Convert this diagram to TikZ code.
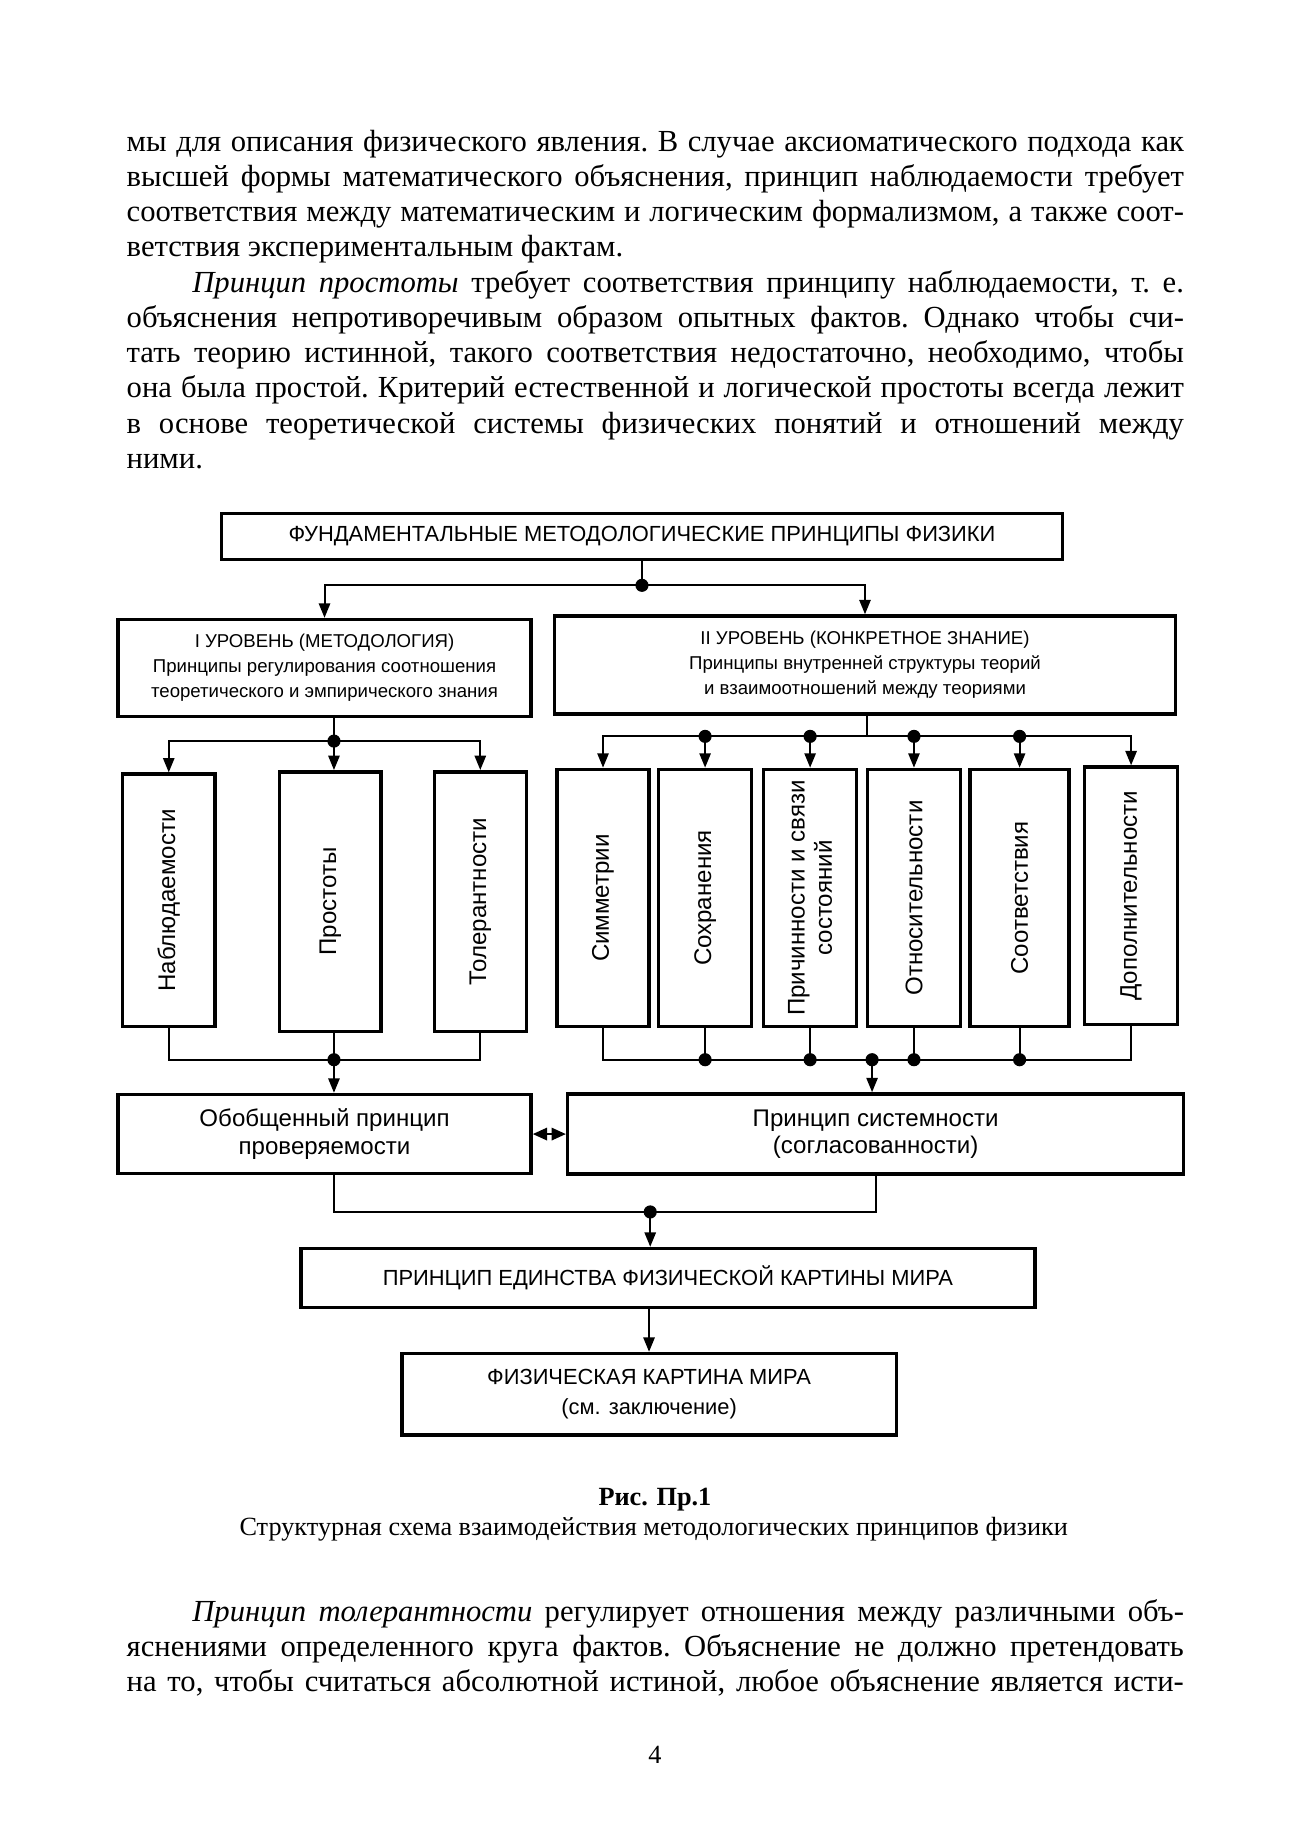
\documentclass[tikz,border=0pt]{standalone}
\usepackage{fontspec}
\setmainfont{Liberation Serif}
\newfontfamily\diafont{Liberation Sans}
\usetikzlibrary{arrows.meta}

% one pixel of the page
\def\pu{0.18953mm}

\begin{document}
\begin{tikzpicture}[x=\pu, y=-\pu,
  box/.style={draw, line width=1.6pt, inner sep=0pt, align=center,
    font=\diafont\fontsize{10}{14}\selectfont},
  small/.style={font=\diafont\fontsize{8.5}{11.5}\selectfont},
  mid/.style={font=\diafont\fontsize{11}{12.5}\selectfont},
  dims/.style 2 args={minimum width=#1*\pu, minimum height=#2*\pu},
  vlabel/.style={rotate=90, align=center, font=\diafont\fontsize{11}{12.5}\selectfont},
  conn/.style={line width=0.9pt},
  arr/.style={conn, -{Triangle[length=2.3mm, width=1.8mm]}},
  dbl/.style={conn, {Triangle[length=2.3mm, width=2mm]}-{Triangle[length=2.3mm, width=2mm]}},
  body/.style={anchor=base west, inner sep=0pt, text width=169.8mm, align=justify,
    font=\fontsize{14}{16.12}\selectfont}
]

% Page
\useasboundingbox[fill=white] (0,0) rectangle (1108,1566);

% Text above the figure
\node[body] (txtA) at (107,128) {\frenchspacing\hyphenpenalty=10000 \parindent=30pt
\noindent мы для описания физического явления. В случае аксиоматического подхода как\linebreak
высшей формы математического объяснения, принцип наблюдаемости требует\linebreak
соответствия между математическим и логическим формализмом, а также соот-\linebreak
ветствия экспериментальным фактам.\par
\textit{Принцип простоты} требует соответствия принципу наблюдаемости, т.~е.\linebreak
объяснения непротиворечивым образом опытных фактов. Однако чтобы счи-\linebreak
тать теорию истинной, такого соответствия недостаточно, необходимо, чтобы\linebreak
она была простой. Критерий естественной и логической простоты всегда лежит\linebreak
в основе теоретической системы физических понятий и отношений между\linebreak
ними.\par};

% Top box
\node[box, dims={713}{39}] (top) at (544,454.5) {ФУНДАМЕНТАЛЬНЫЕ МЕТОДОЛОГИЧЕСКИЕ ПРИНЦИПЫ ФИЗИКИ};

% Levels
\node[box, small, dims={350}{82}] (lvlI) at (275,566)
  {I УРОВЕНЬ (МЕТОДОЛОГИЯ)\\Принципы регулирования соотношения\\теоретического и эмпирического знания};
\node[box, small, dims={526}{83}] (lvlII) at (733,563.5)
  {II УРОВЕНЬ (КОНКРЕТНОЕ ЗНАНИЕ)\\Принципы внутренней структуры теорий\\и взаимоотношений между теориями};

% Principles of level I
\node[box, dims={78}{214}, label={[vlabel]center:Наблюдаемости}] (nab) at (143,763) {};
\node[box, dims={86}{220}, label={[vlabel]center:Простоты}] (pros) at (280,764) {};
\node[box, dims={78}{220}, label={[vlabel]center:Толерантности}] (tol) at (407,764) {};

% Principles of level II
\node[box, dims={78}{218}, label={[vlabel]center:Симметрии}] (sym) at (511,761) {};
\node[box, dims={79}{218}, label={[vlabel]center:Сохранения}] (sokh) at (597.5,761) {};
\node[box, dims={79}{218}, label={[vlabel]center:{Причинности и связи\\состояний}}] (prich) at (686.5,761) {};
\node[box, dims={79}{218}, label={[vlabel]center:Относительности}] (otn) at (774.5,761) {};
\node[box, dims={84}{218}, label={[vlabel]center:Соответствия}] (sootv) at (864,761) {};
\node[box, dims={79}{218}, label={[vlabel]center:Дополнительности}] (dop) at (958.5,759) {};

% Generalised principles
\node[box, mid, dims={350}{67}] (gen) at (275,961) {Обобщенный принцип\\проверяемости};
\node[box, mid, dims={522}{68}] (sys) at (742,961) {Принцип системности\\(согласованности)};

% Unity and picture of the world
\node[box, dims={622}{50}] (unity) at (566,1083) {ПРИНЦИП ЕДИНСТВА ФИЗИЧЕСКОЙ КАРТИНЫ МИРА};
\node[box, dims={419}{69}] (world) at (550,1181.5) {ФИЗИЧЕСКАЯ КАРТИНА МИРА\\(см. заключение)};

% Junctions
\coordinate (j0) at (544,496);
\coordinate (j1) at (283,628);
\coordinate (j2) at (735,624);
\coordinate (j3) at (283,898);
\coordinate (j4) at (739,898);
\coordinate (j5) at (551,1027);

% Top -> levels
\draw[conn] (top.south) -- (j0);
\draw[arr] (j0) -| (lvlI.north);
\draw[arr] (j0) -| (lvlII.north);
\fill (j0) circle (3pt);

% Level I -> its principles
\draw[conn] (lvlI.south -| j1) -- (j1);
\draw[arr] (j1) -| (nab.north);
\draw[arr] (j1) -| (tol.north);
\draw[arr] (j1) -- (pros.north -| j1);
\fill (j1) circle (3pt);

% Level II -> its principles
\draw[conn] (lvlII.south -| j2) -- (j2);
\draw[arr] (j2) -| (sym.north);
\draw[arr] (j2) -| (dop.north);
\foreach \n in {sokh, prich, otn, sootv} {
  \draw[arr] (\n.north |- j2) -- (\n.north);
  \fill (\n.north |- j2) circle (3pt);
}

% Level I principles -> generalised principle
\draw[conn] (nab.south) |- (j3);
\draw[conn] (tol.south) |- (j3);
\draw[conn] (pros.south -| j3) -- (j3);
\draw[arr] (j3) -- (gen.north -| j3);
\fill (j3) circle (3pt);

% Level II principles -> systemic principle
\draw[conn] (sym.south) |- (j4);
\draw[conn] (dop.south) |- (j4);
\foreach \n in {sokh, prich, otn, sootv} {
  \draw[conn] (\n.south) -- (\n.south |- j4);
  \fill (\n.south |- j4) circle (3pt);
}
\draw[arr] (j4) -- (sys.north -| j4);
\fill (j4) circle (3pt);

% Between the two
\draw[dbl] (gen.east) -- (sys.west);

% Down to unity and the picture of the world
\draw[conn] (gen.south -| j3) |- (j5);
\draw[conn] (sys.south) |- (j5);
\draw[arr] (j5) -- (unity.north -| j5);
\fill (j5) circle (3pt);
\draw[arr] (unity.south -| world.north) -- (world.north);

% Caption
\node[anchor=base, font=\bfseries\fontsize{12}{14}\selectfont] (fig) at (555,1276) {Рис. Пр.1};
\node[anchor=base, font=\fontsize{12}{14}\selectfont] (cap) at (554,1301)
  {Структурная схема взаимодействия методологических принципов физики};

% Text below the figure
\node[body] (txtB) at (107,1374) {\frenchspacing\hyphenpenalty=10000 \parfillskip=0pt
\leavevmode\hspace*{30pt}\textit{Принцип толерантности} регулирует отношения между различными объ-\linebreak
яснениями определенного круга фактов. Объяснение не должно претендовать\linebreak
на то, чтобы считаться абсолютной истиной, любое объяснение является исти-\par};

% Page number
\node[anchor=base, font=\fontsize{12}{14}\selectfont] (pg) at (555,1494) {4};

\end{tikzpicture}
\end{document}
